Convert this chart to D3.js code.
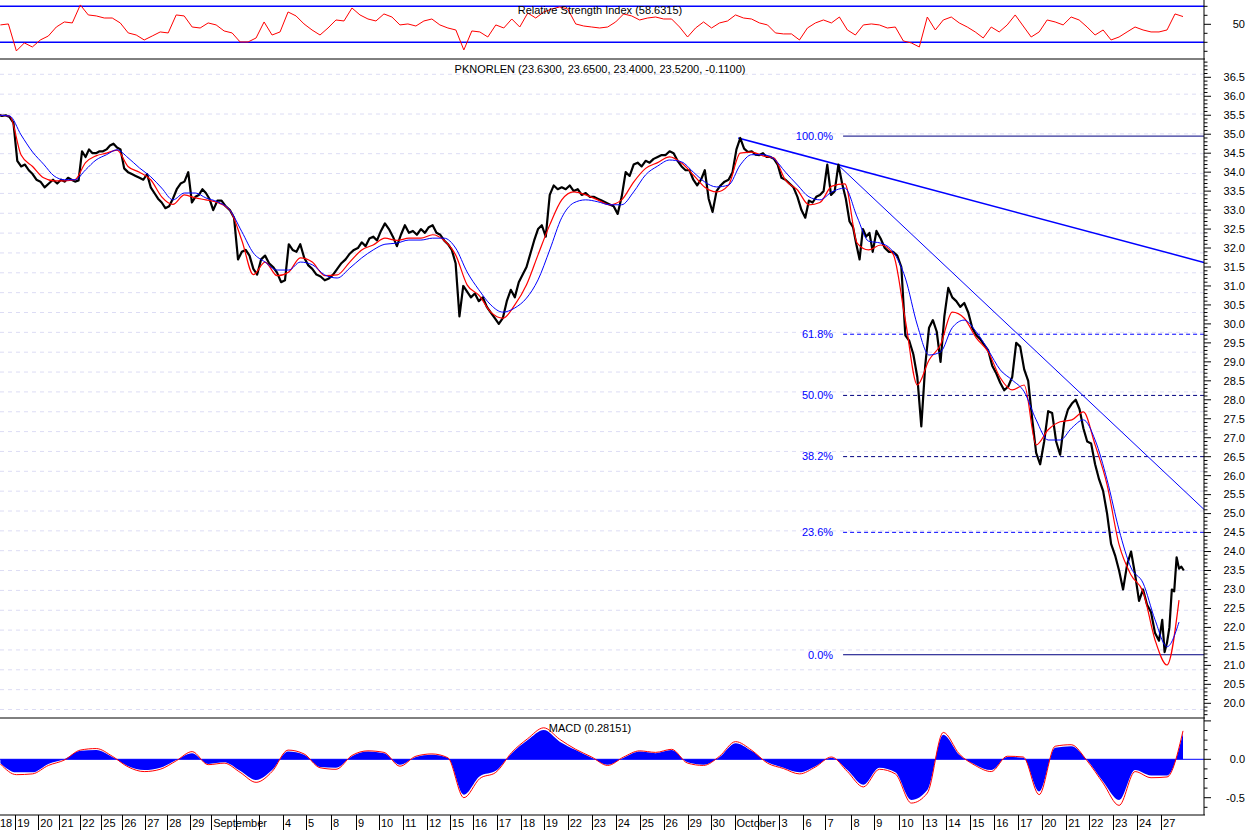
<!DOCTYPE html>
<html><head><meta charset="utf-8">
<script src="https://cdn.jsdelivr.net/npm/d3@7"></script>
<style>
body{margin:0;background:#fff}
svg{display:block}
text{font-family:"Liberation Sans",Arial,sans-serif;font-size:11px;fill:#000}
</style>
</head><body>
<svg id="c" width="1250" height="830"></svg>
<script>
// ---------------- DATA ----------------
const dayLabels = ["18","19","20","21","22","25","26","27","28","29",
 "September","2","3","4","5","8","9","10","11","12","15","16","17","18","19","22","23","24","25","26","29","30",
 "October","2","3","6","7","8","9","10","13","14","15","16","17","20","21","22","23","24","27"];
// intraday bars recorded per trading day
const barsPerDay = [23,23,21,21,21,21,23,22,23,21, 25,23,24,23,25,25,23,24,24,23,
 23,24,24,23,24,24,24,24,24,24, 23,24,23,22,24,22,26,23,25,24,
 23,24,24,24,24,24,23,24,24,24, 24];
// intraday price samples per day
const priceDays = [
 [35.5,35.52,35.48,35.5,35.45,35.3],[34.3,34.15,34.2,34.05,33.95,33.8],[33.75,33.6,33.7,33.8,33.7],
 [33.8,33.75,33.85,33.8,33.75,33.78],[34.55,34.4,34.6,34.5,34.5,34.55],[34.55,34.6,34.7,34.75,34.65,34.6],
 [34.1,34.0,33.95,33.9,33.85,33.8],[33.95,33.6,33.45,33.3,33.2,33.05],[33.1,33.3,33.55,33.7,33.75,34.0],
 [33.2,33.35,33.4,33.55,33.45,33.3],[33.0,33.25,33.25,33.1,33.0,32.8],[31.7,31.9,31.95,31.8,31.45,31.3],
 [31.7,31.8,31.6,31.5,31.35,31.1],[31.15,32.1,31.95,31.9,32.1,31.75],[31.55,31.45,31.3,31.25,31.15,31.2],
 [31.3,31.45,31.6,31.7,31.85,31.95],[32.0,32.15,32.05,32.25,32.3,32.2],[32.45,32.65,32.5,32.3,32.05,32.35],
 [32.6,32.4,32.45,32.35,32.5,32.4],[32.55,32.6,32.4,32.35,32.2,32.1],[31.95,31.6,30.2,31.0,30.85,30.7],
 [30.8,30.6,30.7,30.45,30.3,30.15],[30.0,30.15,30.6,30.9,30.7,31.1],[31.3,31.5,31.85,32.2,32.5,32.6],
 [32.3,33.4,33.65,33.55,33.6,33.55],[33.65,33.5,33.55,33.4,33.45,33.35],[33.35,33.3,33.25,33.2,33.15,33.1],
 [32.9,33.35,34.0,33.9,34.2,34.25],[34.15,34.3,34.25,34.35,34.4,34.45],[34.45,34.55,34.5,34.3,34.15,34.05],
 [34.05,33.8,33.65,33.8,34.05,33.3],[32.95,33.5,33.65,33.75,33.8,34.0],[34.6,34.9,34.62,34.53,34.55,34.46],
 [34.45,34.5,34.4,34.4,34.35,34.2],[33.85,33.8,33.7,33.6,33.35,33.0],[32.8,33.25,33.2,33.35,33.4,33.5],
 [34.2,33.4,33.5,34.2,33.7,33.3,32.7],[32.55,32.1,31.7,32.5,32.3,32.4,31.9],[32.45,32.25,32.0,31.9,31.9,31.8],
 [31.5,29.7,29.55,29.2,28.6,27.3],[28.9,29.9,30.1,29.8,29.0,30.2],[30.95,30.7,30.6,30.45,30.55,30.3],
 [29.9,29.7,29.6,29.45,29.3,28.9],[28.7,28.45,28.25,28.35,28.6,29.5],[29.4,28.8,28.5,27.5,26.6,26.3],
 [26.9,27.7,27.65,26.9,26.55,27.4],[27.75,27.9,28.0,27.75,27.25,26.9],[26.85,26.3,25.9,25.6,25.0,24.2],
 [23.9,23.5,23.0,23.65,24.0,23.4],[22.7,23.0,22.6,22.4,21.85,21.65],
 [22.2,21.35,21.6,22.0,23.0,22.95,23.85,23.55,23.6,23.5]
];
// moving averages, two readings per day
const maFast = [35.5,35.48, 34.45,34.15, 33.85,33.77, 33.77,33.8, 34.25,34.43, 34.5,34.58, 34.15,34.0, 33.8,33.35,
 33.15,33.4, 33.32,33.27, 33.2,33.0, 32.2,31.3, 31.63,31.27, 31.37,31.74, 31.63,31.27, 31.29,31.63, 31.95,32.08,
 32.26,32.2, 32.26,32.26, 32.35,32.2, 31.82,31.03, 30.76,30.31, 30.15,30.5, 31.03,31.82, 32.61,33.27, 33.48,33.4,
 33.27,33.14, 33.27,33.74, 34.1,34.25, 34.4,34.24, 33.93,33.6, 33.48,33.66, 34.5,34.53, 34.43,34.37, 33.79,33.53,
 33.14,33.2, 33.63,33.69, 32.13,31.95, 32.08,31.84, 30.1,28.39, 29.05,29.45, 30.31,30.15, 29.63,29.26, 28.58,28.26,
 28.39,26.81, 27.21,27.42, 27.47,27.68, 26.81,25.76, 24.18,23.38, 22.94,21.67, 21.01,22.72];
const maSlow = [35.5,35.48, 34.98,34.53, 34.21,33.9, 33.8,33.8, 34.06,34.32, 34.46,34.59, 34.38,34.11, 33.88,33.58,
 33.27,33.45, 33.45,33.32, 33.22,33.0, 32.43,31.87, 31.63,31.42, 31.42,31.63, 31.56,31.29, 31.21,31.47, 31.74,31.95,
 32.1,32.13, 32.21,32.21, 32.26,32.26, 32.0,31.37, 30.9,30.5, 30.31,30.42, 30.68,31.16, 31.95,32.8, 33.19,33.27,
 33.22,33.14, 33.14,33.48, 33.93,34.16, 34.32,34.27, 34.0,33.74, 33.61,33.66, 34.19,34.46, 34.46,34.35, 34.0,33.66,
 33.35,33.27, 33.48,33.58, 32.82,32.18, 32.13,31.9, 31.21,29.97, 29.18,29.26, 29.9,30.1, 29.79,29.31, 28.79,28.52,
 28.21,27.47, 26.94,26.94, 27.26,27.47, 26.94,25.89, 24.57,23.57, 23.17,22.2, 21.49,22.14];
// RSI, one reading every 8 bars
const rsiStep = 8;
const rsi = [49.3,50.4,20.4,29.3,24.8,32.6,37.0,47.0,52.6,51.5,71.5,60.4,59.3,57.0,57.0,51.5,40.4,38.1,32.6,37.0,
 41.5,40.4,60.4,59.3,47.0,45.9,51.5,49.3,42.6,40.4,30.4,30.4,34.8,52.6,38.1,41.5,63.7,59.3,50.4,43.7,
 38.1,45.9,54.8,53.7,68.1,60.4,55.9,53.7,61.5,58.1,49.3,50.4,48.1,
 53.7,55.9,49.3,45.9,43.7,21.5,42.6,41.5,35.9,49.3,45.9,55.9,47.0,62.6,57.0,63.7,67.0,69.3,67.0,50.4,
 48.1,47.0,45.9,47.0,52.6,61.5,59.3,54.8,57.0,58.1,55.9,55.9,47.0,35.9,45.9,52.6,45.9,51.5,53.7,60.4,
 57.0,55.9,51.5,49.3,40.4,39.3,39.3,32.6,45.9,51.5,54.8,51.5,
 58.1,43.7,38.1,49.3,50.4,49.3,45.9,47.0,31.5,29.3,24.8,58.1,43.7,54.8,58.1,51.5,47.0,41.5,34.8,47.0,
 41.5,49.3,60.4,48.1,35.9,41.5,54.8,52.6,49.3,58.1,54.8,47.0,38.1,43.7,32.6,35.9,41.5,47.0,43.7,41.5,
 41.5,43.7,61.5,58.6];
// MACD and signal, one reading every 16 bars
const macdStep = 16;
const macd = [-0.05,-0.17,-0.17,-0.06,0.0,0.11,0.12,0.03,-0.09,-0.14,-0.11,-0.01,0.08,-0.06,-0.04,-0.15,-0.27,-0.14,0.1,0.06,
 -0.1,-0.11,0.04,0.1,0.08,-0.07,0.03,0.06,0.02,-0.46,-0.22,-0.15,0.08,0.25,0.38,0.23,0.12,0.02,-0.07,0.02,
 0.1,0.08,0.12,-0.04,-0.07,0.03,0.21,0.11,-0.04,-0.11,-0.17,-0.09,0.02,-0.14,-0.33,-0.11,-0.17,-0.53,-0.4,0.32,
 0.06,-0.07,-0.14,0.03,0.02,-0.42,0.15,0.17,-0.01,-0.29,-0.53,-0.14,-0.21,-0.21,0.34];
const signal = [-0.06,-0.2,-0.19,-0.08,-0.01,0.12,0.14,0.04,-0.1,-0.16,-0.13,-0.02,0.1,-0.07,-0.05,-0.17,-0.3,-0.16,0.12,0.07,
 -0.11,-0.13,0.05,0.11,0.09,-0.09,0.04,0.07,0.02,-0.5,-0.25,-0.17,0.09,0.27,0.41,0.26,0.13,0.03,-0.08,0.03,
 0.11,0.09,0.13,-0.05,-0.08,0.04,0.23,0.12,-0.05,-0.12,-0.19,-0.1,0.03,-0.16,-0.36,-0.13,-0.19,-0.57,-0.44,0.35,
 0.07,-0.08,-0.16,0.04,0.03,-0.46,0.17,0.19,-0.02,-0.31,-0.6,-0.16,-0.24,-0.23,0.37];
// trendlines: [dayIndex + fraction of day, price]
const trendA = [[32.16,34.9],[36.47,34.2]];
const trendB = [[36.47,34.2],[44.0,29.72]];
// fibonacci retracement
const fibHigh = 34.95, fibLow = 21.28, fibStartDay = 36.68;
const fibLevels = [0, 0.236, 0.382, 0.5, 0.618, 1.0];
const rsiTitle = "Relative Strength Index (58.6315)";
const mainTitle = "PKNORLEN (23.6300, 23.6500, 23.4000, 23.5200, -0.1100)";
const macdTitle = "MACD (0.28151)";

// ---------------- LAYOUT ----------------
const svg = d3.select("#c");
const PR = 1204;
const P = {rsi:[0,59], main:[59,718], macd:[718,815]};
const total = d3.sum(barsPerDay);
const cum = []; {let a=0; barsPerDay.forEach(b=>{cum.push(a); a+=b;});}
const x = d3.scaleLinear().domain([0,total]).range([-7.6,1185]);
const dayX = v => { const d=Math.floor(v), f=v-d; return x(cum[d] + f*barsPerDay[d]); };
const yR = d3.scaleLinear().domain([30,70]).range([42.3,6.3]);
const yP = d3.scaleLinear().domain([20,36.5]).range([703.3,77.3]);
const yM = d3.scaleLinear().domain([-0.5,0]).range([797.7,759.3]);

const defs = svg.append("defs");
Object.entries(P).forEach(([k,[t,b]])=>{
  defs.append("clipPath").attr("id","clip-"+k).append("rect").attr("x",0).attr("y",t).attr("width",PR).attr("height",b-t);
});

// gridlines in main panel (light dashed)
const gridCount = 33, gTop = P.main[0]+15.3, gStep = 19.85;
svg.append("g").selectAll("line").data(d3.range(gridCount)).join("line")
  .attr("x1",0).attr("x2",PR).attr("y1",i=>gTop+i*gStep).attr("y2",i=>gTop+i*gStep)
  .attr("stroke","#dcdcf4").attr("stroke-dasharray","4,4");

// ---------- RSI panel ----------
const gR = svg.append("g").attr("clip-path","url(#clip-rsi)");
[70,30].forEach(v=>gR.append("line").attr("x1",0).attr("x2",PR).attr("y1",yR(v)).attr("y2",yR(v))
  .attr("stroke","#0000ff").attr("stroke-width",1.5));
gR.append("path").datum(rsi).attr("fill","none").attr("stroke","#ff0000").attr("stroke-width",1)
  .attr("d",d3.line().x((d,i)=>x(8+i*rsiStep)).y(d=>yR(d)));
svg.append("text").attr("x",600).attr("y",14).attr("text-anchor","middle").text(rsiTitle);

// ---------- Main panel ----------
const gM = svg.append("g").attr("clip-path","url(#clip-main)");
const fibStyle = {0:["#000080",null],0.236:["#0000ff","4,3"],0.382:["#000080","4,3"],0.5:["#000080","4,3"],0.618:["#0000ff","4,3"],1:["#000080",null]};
fibLevels.forEach(l=>{
  const v = fibLow + l*(fibHigh-fibLow), yy = yP(v), st = fibStyle[l];
  gM.append("line").attr("x1",dayX(fibStartDay)).attr("x2",PR).attr("y1",yy).attr("y2",yy)
    .attr("stroke",st[0]).attr("stroke-width",1).attr("stroke-dasharray",st[1]);
  svg.append("text").attr("x",dayX(fibStartDay)-10).attr("y",yy).attr("dy","0.35em")
    .attr("text-anchor","end").style("fill","#0000ff").text((l*100).toFixed(1)+"%");
});
function trend(pts, w){
  const x1=dayX(pts[0][0]), y1=yP(pts[0][1]), x2=dayX(pts[1][0]), y2=yP(pts[1][1]);
  const s=(y2-y1)/(x2-x1);
  gM.append("line").attr("x1",x1).attr("y1",y1).attr("x2",PR).attr("y2",y1+s*(PR-x1))
    .attr("stroke","#0000ff").attr("stroke-width",w);
}
trend(trendA,1.5); trend(trendB,1);
const pricePts = priceDays.flatMap((vals,d)=>vals.map((v,i)=>[cum[d]+(i+0.5)/vals.length*barsPerDay[d], v]));
gM.append("path").datum(pricePts).attr("fill","none").attr("stroke","#000").attr("stroke-width",2.2)
  .attr("stroke-linejoin","round").attr("d",d3.line().x(d=>x(d[0])).y(d=>yP(d[1])));
const maPts = arr => arr.map((v,k)=>{const d=Math.floor(k/2), i=k%2; return [cum[d]+(i+0.5)/2*barsPerDay[d], v];});
const maLine = d3.line().x(d=>x(d[0])).y(d=>yP(d[1])).curve(d3.curveMonotoneX);
gM.append("path").datum(maPts(maFast)).attr("fill","none").attr("stroke","#ff0000").attr("stroke-width",1.2).attr("d",maLine);
gM.append("path").datum(maPts(maSlow)).attr("fill","none").attr("stroke","#0000ff").attr("stroke-width",1).attr("d",maLine);
svg.append("text").attr("x",600).attr("y",73).attr("text-anchor","middle").text(mainTitle);

// ---------- MACD panel ----------
const gD = svg.append("g").attr("clip-path","url(#clip-macd)");
gD.append("line").attr("x1",0).attr("x2",PR).attr("y1",yM(0)).attr("y2",yM(0)).attr("stroke","#0000ff");
gD.append("path").datum(macd).attr("fill","#0000ff")
  .attr("d",d3.area().x((d,i)=>x(8+i*macdStep)).y0(yM(0)).y1(d=>yM(d)).curve(d3.curveMonotoneX));
gD.append("path").datum(signal).attr("fill","none").attr("stroke","#ff0000").attr("stroke-width",1)
  .attr("d",d3.line().x((d,i)=>x(8+i*macdStep)).y(d=>yM(d)).curve(d3.curveMonotoneX));
svg.append("text").attr("x",590).attr("y",732).attr("text-anchor","middle").text(macdTitle);

// ---------- frame ----------
[P.rsi[1],P.main[1],P.macd[1]].forEach(yy=>svg.append("line").attr("x1",0).attr("x2",PR+1).attr("y1",yy).attr("y2",yy).attr("stroke","#000"));
svg.append("line").attr("x1",PR).attr("x2",PR).attr("y1",0).attr("y2",P.macd[1]).attr("stroke","#000");

const gA = svg.append("g");
d3.range(197,370).map(v=>v/10).filter(v=>yP(v)>P.main[0]+1&&yP(v)<P.main[1]-1).forEach(v=>{
  const major = Math.abs(v*2-Math.round(v*2))<1e-6;
  gA.append("line").attr("x1",PR).attr("x2",PR+(major?7:3.5)).attr("y1",yP(v)).attr("y2",yP(v)).attr("stroke","#000");
});
d3.range(20,36.51,0.5).forEach(v=>gA.append("text").attr("x",1245).attr("y",yP(v)).attr("dy","0.35em")
  .attr("text-anchor","end").text(v.toFixed(1)));
d3.range(10,80,10).filter(v=>yR(v)>1&&yR(v)<P.rsi[1]-1).forEach(v=>{
  gA.append("line").attr("x1",PR).attr("x2",PR+(v===50?7:3.5)).attr("y1",yR(v)).attr("y2",yR(v)).attr("stroke","#000");
});
gA.append("text").attr("x",1245).attr("y",yR(50)).attr("dy","0.35em").attr("text-anchor","end").text("50");
d3.range(-6,5).map(k=>k*0.125).filter(v=>yM(v)>P.macd[0]+1&&yM(v)<P.macd[1]-1).forEach(v=>{
  const major = Math.abs(v*2-Math.round(v*2))<1e-6;
  gA.append("line").attr("x1",PR).attr("x2",PR+(major?7:3.5)).attr("y1",yM(v)).attr("y2",yM(v)).attr("stroke","#000");
});
[0,-0.5].forEach(v=>gA.append("text").attr("x",1245).attr("y",yM(v)).attr("dy","0.35em").attr("text-anchor","end").text(v.toFixed(1)));

// x axis
const gX = svg.append("g");
let lastEnd = -Infinity;
dayLabels.forEach((lab,d)=>{
  const xx = x(cum[d]);
  const t = gX.append("text").attr("x",Math.max(xx+2,0)).attr("y",827).text(lab);
  const w = t.node().getComputedTextLength();
  if (xx+2 < lastEnd+1) t.remove(); else lastEnd = Math.max(xx+2,0)+w;
});
dayLabels.forEach((lab,d)=>{
  const xx = Math.round(x(cum[d]))+0.5;
  gX.append("line").attr("x1",xx).attr("x2",xx).attr("y1",P.macd[1]).attr("y2",830).attr("stroke","#000");
});
</script>
</body></html>
